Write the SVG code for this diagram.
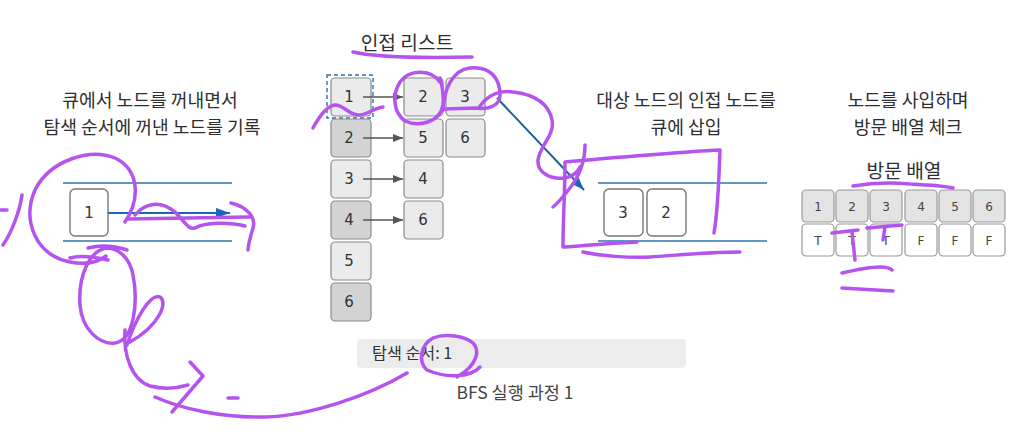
<svg xmlns="http://www.w3.org/2000/svg" width="1026" height="433" viewBox="0 0 1026 433">
<style>
.h{font-family:"Noto Sans CJK KR","Noto Sans",sans-serif;font-size:19.2px;fill:#2e2e2e;text-anchor:middle}
.h2{font-family:"Noto Sans CJK KR","Noto Sans",sans-serif;font-size:18.2px;fill:#2e2e2e;text-anchor:middle}
.n{font-family:"DejaVu Sans","Noto Sans",sans-serif;font-size:15px;fill:#333;text-anchor:middle}
.s{font-family:"DejaVu Sans","Noto Sans",sans-serif;font-size:12px;fill:#444;text-anchor:middle}
.lt{fill:#ebebeb;stroke:#8a8a8a;stroke-width:1.2}
.dk{fill:#d3d3d3;stroke:#8a8a8a;stroke-width:1.2}
.q{fill:#fff;stroke:#777;stroke-width:1.4}
.vh{fill:#e3e3e3;stroke:#999;stroke-width:1.2}
.vb{fill:#fff;stroke:#999;stroke-width:1.2}
.ql{stroke:#2f74b0;stroke-width:1.4}
.ga{stroke:#555;stroke-width:1.4;marker-end:url(#ag)}
.pen{fill:none;stroke:#b553f0;stroke-width:3.5;stroke-linecap:round;stroke-linejoin:round}
</style>
<defs>
<marker id="ag" markerWidth="10" markerHeight="8" refX="10" refY="4" orient="auto" markerUnits="userSpaceOnUse"><path d="M0,0 L10,4 L0,8 z" fill="#555"/></marker>
<marker id="ab" markerWidth="14" markerHeight="10" refX="14" refY="5" orient="auto" markerUnits="userSpaceOnUse"><path d="M0,0 L14,5 L0,10 z" fill="#1a67b8"/></marker>
</defs>
<rect width="1026" height="433" fill="#fff"/>

<g id="headings">
<text class="h2" x="150" y="107">큐에서 노드를 꺼내면서</text>
<text class="h2" x="152" y="133.5">탐색 순서에 꺼낸 노드를 기록</text>
<text class="h" x="407" y="50">인접 리스트</text>
<text class="h2" x="686" y="107">대상 노드의 인접 노드를</text>
<text class="h2" x="686" y="133.5">큐에 삽입</text>
<text class="h2" x="908" y="107">노드를 사입하며</text>
<text class="h2" x="908" y="133.5">방문 배열 체크</text>
<text class="h" x="904" y="178">방문 배열</text>
</g>

<g id="left-queue">
<line class="ql" x1="63" y1="183" x2="232" y2="183"/>
<line class="ql" x1="63" y1="241" x2="232" y2="241"/>
<rect class="q" x="70" y="189" width="38" height="47" rx="5"/>
<text class="n" x="89" y="218">1</text>
</g>

<g id="adjacency-list">
<rect x="327" y="75" width="46" height="43" fill="none" stroke="#2a6fa8" stroke-width="1.4" stroke-dasharray="4,3"/>
<g id="a1"><rect class="lt" x="331" y="78" width="40" height="38" rx="4"/><text class="n" x="349" y="102">1</text></g>
<g id="a2"><rect class="dk" x="331" y="119" width="40" height="38" rx="4"/><text class="n" x="349" y="143">2</text></g>
<g id="a3"><rect class="lt" x="331" y="160" width="40" height="38" rx="4"/><text class="n" x="349" y="184">3</text></g>
<g id="a4"><rect class="dk" x="331" y="201" width="40" height="38" rx="4"/><text class="n" x="349" y="225">4</text></g>
<g id="a5"><rect class="lt" x="331" y="242" width="40" height="38" rx="4"/><text class="n" x="349" y="266">5</text></g>
<g id="a6"><rect class="dk" x="331" y="283" width="40" height="38" rx="4"/><text class="n" x="349" y="307">6</text></g>
<g id="l1a"><rect class="lt" x="404" y="78" width="39" height="38" rx="4"/><text class="n" x="423" y="102">2</text></g>
<g id="l1b"><rect class="lt" x="446" y="78" width="39" height="38" rx="4"/><text class="n" x="465" y="102">3</text></g>
<g id="l2a"><rect class="lt" x="404" y="119" width="39" height="38" rx="4"/><text class="n" x="423" y="143">5</text></g>
<g id="l2b"><rect class="lt" x="446" y="119" width="39" height="38" rx="4"/><text class="n" x="465" y="143">6</text></g>
<g id="l3a"><rect class="lt" x="404" y="160" width="39" height="38" rx="4"/><text class="n" x="423" y="184">4</text></g>
<g id="l4a"><rect class="lt" x="404" y="201" width="39" height="38" rx="4"/><text class="n" x="423" y="225">6</text></g>
</g>

<g id="right-queue">
<line class="ql" x1="598" y1="183" x2="767" y2="183"/>
<line class="ql" x1="598" y1="241" x2="767" y2="241"/>
<g id="rq3"><rect class="q" x="604" y="189" width="39" height="47" rx="5"/><text class="n" x="623" y="218">3</text></g>
<g id="rq2"><rect class="q" x="647" y="189" width="39" height="47" rx="5"/><text class="n" x="666" y="218">2</text></g>
</g>

<g id="visited">
<g><rect class="vh" x="802" y="190" width="32" height="32" rx="4"/><text class="s" x="818" y="211">1</text></g>
<g><rect class="vh" x="836" y="190" width="32" height="32" rx="4"/><text class="s" x="852" y="211">2</text></g>
<g><rect class="vh" x="870" y="190" width="32" height="32" rx="4"/><text class="s" x="886" y="211">3</text></g>
<g><rect class="vh" x="905" y="190" width="32" height="32" rx="4"/><text class="s" x="921" y="211">4</text></g>
<g><rect class="vh" x="939" y="190" width="32" height="32" rx="4"/><text class="s" x="955" y="211">5</text></g>
<g><rect class="vh" x="973" y="190" width="32" height="32" rx="4"/><text class="s" x="989" y="211">6</text></g>
<g><rect class="vb" x="802" y="224" width="32" height="32" rx="4"/><text class="s" x="818" y="245">T</text></g>
<g><rect class="vb" x="836" y="224" width="32" height="32" rx="4"/><text class="s" x="852" y="245">T</text></g>
<g><rect class="vb" x="870" y="224" width="32" height="32" rx="4"/><text class="s" x="886" y="245">T</text></g>
<g><rect class="vb" x="905" y="224" width="32" height="32" rx="4"/><text class="s" x="921" y="245">F</text></g>
<g><rect class="vb" x="939" y="224" width="32" height="32" rx="4"/><text class="s" x="955" y="245">F</text></g>
<g><rect class="vb" x="973" y="224" width="32" height="32" rx="4"/><text class="s" x="989" y="245">F</text></g>
</g>

<g id="order">
<rect x="357" y="339" width="329" height="29" rx="4" fill="#ececec"/>
<text x="372" y="359" font-family="Noto Sans CJK KR, Noto Sans, sans-serif" font-size="16.2" fill="#333">탐색 순서: 1</text>
<text x="515" y="399" text-anchor="middle" font-family="Noto Sans CJK KR, Noto Sans, sans-serif" font-size="17.5" fill="#444">BFS 실행 과정 1</text>
</g>

<g id="connectors">
<line class="ga" x1="363" y1="97" x2="403" y2="97"/>
<line class="ga" x1="363" y1="138" x2="403" y2="138"/>
<line class="ga" x1="363" y1="179" x2="403" y2="179"/>
<line class="ga" x1="363" y1="220" x2="403" y2="220"/>
<line x1="108" y1="213" x2="230" y2="213" stroke="#1a67b8" stroke-width="2" marker-end="url(#ab)"/>
<line x1="497" y1="98" x2="584" y2="190" stroke="#1d5f9c" stroke-width="2" marker-end="url(#ab)"/>
</g>

<g id="annotations">
<path class="pen" d="M125 222 C140 200 140 170 115 158 C90 148 50 160 35 190 C22 220 35 255 70 262 C85 265 98 262 106 256"/>
<path class="pen" d="M127 219 C170 218 210 218 250 217"/>
<path class="pen" d="M135 215 C145 203 160 200 175 212 C185 222 188 230 195 228 C205 222 230 222 245 226"/>
<path class="pen" d="M231 203 C248 207 256 218 253 228 C250 238 248 245 248 250"/>
<path class="pen" d="M22 195 C20 210 12 232 3 245"/>
<path class="pen" d="M0 210 L7 210"/>
<path class="pen" d="M107 248 C90 250 78 275 80 305 C82 330 100 345 115 343 C135 340 138 300 133 275 C130 258 118 247 105 248"/>
<path class="pen" d="M70 258 C80 255 95 257 108 260"/>
<path class="pen" d="M88 248 C100 245 115 246 127 250"/>
<path class="pen" d="M127 345 C135 320 150 293 160 297 C168 302 160 325 130 342"/>
<path class="pen" d="M125 330 C123 355 132 380 150 386 C165 390 178 388 188 385"/>
<path class="pen" d="M190 362 L203 376 L172 412"/>
<path class="pen" d="M155 397 C180 408 220 418 265 417 C310 416 370 395 407 373"/>
<path class="pen" d="M228 398 L238 398"/>
<path class="pen" d="M353 52 C380 58 430 58 472 57"/>
<path class="pen" d="M313 128 C320 115 328 105 336 105 C345 106 350 116 360 115 C368 114 375 108 383 107"/>
<path class="pen" d="M440 82 C432 70 410 68 400 82 C392 95 393 112 405 121 C418 127 440 123 443 105 C444 95 442 85 440 78"/>
<path class="pen" d="M443 110 C444 90 452 70 470 68 C490 66 500 78 500 95 C500 105 490 110 475 108 L445 109"/>
<path class="pen" d="M480 106 C488 95 500 90 513 92 C530 94 548 100 552 120 C555 135 540 145 538 160 C537 172 550 180 565 178 C572 177 578 172 580 167"/>
<path class="pen" d="M637 242 C610 243 585 246 563 247 C563 220 565 190 565 162 C610 158 680 152 720 150 C719 180 718 210 714 233"/>
<path class="pen" d="M583 252 C600 256 630 258 650 257 C680 255 710 252 740 252"/>
<path class="pen" d="M585 145 C585 160 580 175 570 188 C563 197 558 203 553 207"/>
<path class="pen" d="M853 186 C870 183 890 182 910 184 C930 185 945 186 953 188"/>
<path class="pen" d="M832 233 L858 230"/>
<path class="pen" d="M852 232 L855 260"/>
<path class="pen" d="M867 228 L902 225"/>
<path class="pen" d="M885 227 L883 240"/>
<path class="pen" d="M842 273 C855 270 870 267 880 267 C886 267 890 268 892 270"/>
<path class="pen" d="M842 288 C858 289 876 290 893 291"/>
<path class="pen" d="M480 367 C470 378 445 378 427 370 C418 362 420 345 433 338 C445 333 465 336 473 343 C480 350 478 365 457 377"/>
</g>
</svg>
